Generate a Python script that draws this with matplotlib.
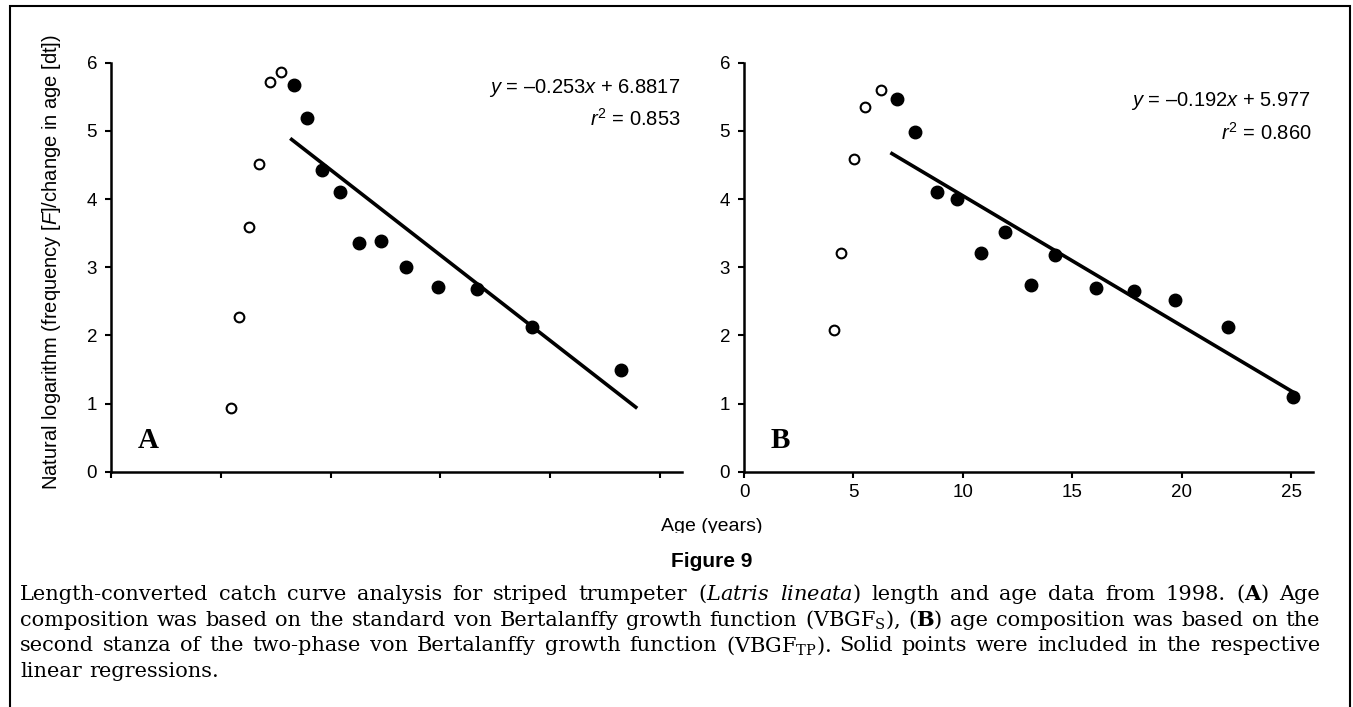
import numpy as np
import matplotlib.pyplot as plt
from matplotlib.patches import Rectangle
from matplotlib.transforms import Bbox, TransformedBbox

plt.rcParams['font.family'] = ['Liberation Sans', 'DejaVu Sans']
plt.rcParams['mathtext.fontset'] = 'custom'
plt.rcParams['mathtext.rm'] = 'Liberation Sans'
plt.rcParams['mathtext.it'] = 'Liberation Sans:italic'
plt.rcParams['mathtext.bf'] = 'Liberation Sans:bold'

# panel A - ages from the standard VBGF
a_open_age = [5.45, 5.84, 6.29, 6.73, 7.22, 7.76]
a_open_lnf = [0.94, 2.27, 3.59, 4.52, 5.71, 5.86]
a_fill_age = [8.33, 8.94, 9.63, 10.41, 11.27, 12.29, 13.43, 14.90, 16.67, 19.18, 23.20]
a_fill_lnf = [5.67, 5.19, 4.42, 4.11, 3.36, 3.38, 3.00, 2.71, 2.68, 2.13, 1.49]
a_fit_age = [8.16, 23.96]
a_fit_lnf = [4.89, 0.93]
a_eq = ['$y$ = \u20130.253$x$ + 6.8817', '$r^2$ = 0.853']

# panel B - ages from the two-phase VBGF
b_open_age = [4.11, 4.43, 5.04, 5.55, 6.24]
b_open_lnf = [2.08, 3.21, 4.59, 5.35, 5.60]
b_fill_age = [6.98, 7.83, 8.82, 9.73, 10.84, 11.94, 13.12, 14.20, 16.08, 17.83, 19.70, 22.11, 25.10]
b_fill_lnf = [5.47, 4.98, 4.11, 4.00, 3.21, 3.51, 2.74, 3.18, 2.70, 2.65, 2.52, 2.13, 1.10]
b_fit_age = [6.69, 25.34]
b_fit_lnf = [4.68, 1.12]
b_eq = ['$y$ = \u20130.192$x$ + 5.977', '$r^2$ = 0.860']

x_ticks = [0, 5, 10, 15, 20, 25]
y_ticks = [0, 1, 2, 3, 4, 5, 6]

caption = [
    r"Length-converted catch curve analysis for striped trumpeter ($\mathit{Latris}$ $\mathit{lineata}$) length and age data from 1998. ($\mathbf{A}$) Age",
    r"composition was based on the standard von Bertalanffy growth function (VBGF$_\mathrm{S}$), ($\mathbf{B}$) age composition was based on the",
    r"second stanza of the two-phase von Bertalanffy growth function (VBGF$_\mathrm{TP}$). Solid points were included in the respective",
    r"linear regressions.",
]

W, H = 1353, 707
fig = plt.figure(figsize=(W / 100, H / 100), dpi=100)

ax_bottom = (H - 471.7) / H
ax_height = 409 / H
axA = fig.add_axes([111 / W, ax_bottom, 571 / W, ax_height])
axB = fig.add_axes([744 / W, ax_bottom, 569 / W, ax_height])


def draw_panel(ax, o_x, o_y, f_x, f_y, fit_x, fit_y, eq, eq_y, letter, labels):
    ax.plot(fit_x, fit_y, color='black', lw=2.6, solid_capstyle='butt', zorder=2)
    ax.plot(o_x, o_y, 'o', ms=7, mfc='white', mec='black', mew=1.5, ls='none', zorder=3, clip_on=False)
    ax.plot(f_x, f_y, 'o', ms=9, mfc='black', mec='black', ls='none', zorder=3, clip_on=False)
    ax.set_xlim(0, 26)
    ax.set_ylim(0, 6)
    ax.set_xticks(x_ticks)
    ax.set_yticks(y_ticks)
    if not labels:
        ax.set_xticklabels([])
    for s in ['top', 'right']:
        ax.spines[s].set_visible(False)
    for s in ['left', 'bottom']:
        ax.spines[s].set_linewidth(1.8)
    ax.tick_params(axis='both', direction='out', length=4, width=1.5, labelsize=13.5)
    ax.tick_params(axis='y', pad=6)
    ax.tick_params(axis='x', pad=5)
    ax.text(0.997, eq_y[0], eq[0], transform=ax.transAxes, ha='right', va='center', fontsize=14.5)
    ax.text(0.997, eq_y[1], eq[1], transform=ax.transAxes, ha='right', va='center', fontsize=14.5)
    ax.text(0.046, 0.058, letter, transform=ax.transAxes, ha='left', va='baseline',
            fontsize=21, fontweight='bold', family='Liberation Serif')


draw_panel(axA, a_open_age, a_open_lnf, a_fill_age, a_fill_lnf, a_fit_age, a_fit_lnf,
           a_eq, [0.938, 0.862], 'A', False)
draw_panel(axB, b_open_age, b_open_lnf, b_fill_age, b_fill_lnf, b_fit_age, b_fit_lnf,
           b_eq, [0.906, 0.829], 'B', True)

fig.text(52 / W, 1 - 262 / H, 'Natural logarithm (frequency [$F$]/change in age [dt])',
         rotation=90, ha='center', va='center', fontsize=14.5)

xl = fig.text(712 / W, 1 - 518 / H, 'Age (years)', ha='center', va='top', fontsize=14)
xl.set_clip_box(TransformedBbox(Bbox([[0, (H - 533) / H], [1, 1]]), fig.transFigure))
xl.set_clip_on(True)

fig.text(712 / W, 1 - 567 / H, 'Figure 9', ha='center', va='baseline', fontsize=15, fontweight='bold')

# caption, justified word by word
cap_style = dict(family='DejaVu Serif', math_fontfamily='dejavuserif', fontsize=15,
                 ha='left', va='baseline')
cap_left, cap_right = 20, 1320
rend = fig.canvas.get_renderer()
for i, line in enumerate(caption):
    y_px = 600 + 25.7 * i
    words = line.split(' ')
    items = [fig.text(0, 1 - y_px / H, w, **cap_style) for w in words]
    widths = [t.get_window_extent(rend).width for t in items]
    if i == len(caption) - 1:
        gap = 7
    else:
        gap = (cap_right - cap_left - sum(widths)) / (len(words) - 1)
    x = cap_left
    for t, w in zip(items, widths):
        t.set_x(x / W)
        x += w + gap

fig.add_artist(Rectangle((10 / W, -0.05), 1340 / W, 1.05 - 6 / H, transform=fig.transFigure,
                         fill=False, lw=1.5, edgecolor='black', clip_on=False))

fig.savefig('out.png', dpi=100)
